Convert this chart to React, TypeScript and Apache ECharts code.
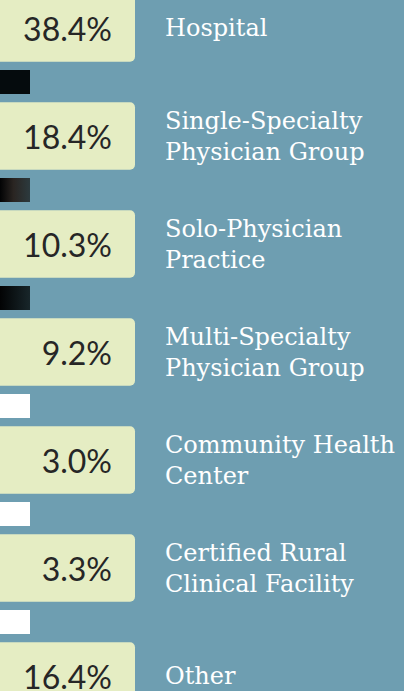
import React, { useEffect, useRef } from "react";
import * as echarts from "echarts";

const categories = [
  "Hospital",
  "Single-Specialty\nPhysician Group",
  "Solo-Physician\nPractice",
  "Multi-Specialty\nPhysician Group",
  "Community Health\nCenter",
  "Certified Rural\nClinical Facility",
  "Other",
];
const shares = [38.4, 18.4, 10.3, 9.2, 3.0, 3.3, 16.4];
const separatorTones = ["dark", "dark", "dark", "light", "light", "light"];

const BG = "#6e9eb1";
const BOX = "#e5edc3";

export default function App() {
  const ref = useRef<HTMLDivElement>(null);
  useEffect(() => {
    document.body.style.margin = "0";
    const chart = echarts.init(ref.current!, undefined, { renderer: "svg" });
    const darkFills = [
      "#050b0d",
      new echarts.graphic.LinearGradient(0, 0, 1, 0, [
        { offset: 0, color: "#020304" },
        { offset: 0.45, color: "#2a2522" },
        { offset: 1, color: "#2c3a3e" },
      ]),
      new echarts.graphic.LinearGradient(0, 0, 1, 0, [
        { offset: 0, color: "#020304" },
        { offset: 1, color: "#18262a" },
      ]),
    ];
    chart.setOption({
      animation: false,
      backgroundColor: BG,
      grid: { left: 0, right: 0, top: -26, height: 756, outerBoundsMode: "none", containLabel: false },
      xAxis: { type: "value", min: 0, max: 404, show: false },
      yAxis: {
        type: "category",
        data: categories,
        inverse: true,
        show: false,
      },
      series: [
        {
          type: "custom",
          clip: false,
          data: shares.map((v, i) => [i, v]),
          encode: { x: 1, y: 0 },
          renderItem: (params: any, api: any) => {
            const i = api.value(0);
            const v = api.value(1);
            const pt = api.coord([0, i]);
            const x0 = pt[0];
            const cy = pt[1];
            const band = api.size([0, 1])[1];
            const boxH = band * 0.625;
            const children: any[] = [
              {
                type: "rect",
                shape: { x: x0 - 10, y: cy - boxH / 2, width: 145, height: boxH, r: 5 },
                style: { fill: BOX },
              },
              {
                type: "text",
                style: {
                  text: v.toFixed(1) + "%",
                  x: x0 + 112,
                  y: cy,
                  align: "right",
                  verticalAlign: "middle",
                  textAlign: "right",
                  textVerticalAlign: "middle",
                  font: '400 32px Lato',
                  fill: "#262626",
                },
              },
              {
                type: "text",
                style: {
                  text: categories[i],
                  x: x0 + 165,
                  y: cy,
                  align: "left",
                  verticalAlign: "middle",
                  textAlign: "left",
                  textVerticalAlign: "middle",
                  font: '24px "DejaVu Serif"',
                  lineHeight: 31,
                  fill: "#ffffff",
                },
              },
            ];
            if (i < separatorTones.length) {
              const tone = separatorTones[i];
              children.push({
                type: "rect",
                shape: { x: x0, y: cy + band / 2 - 12, width: 30, height: 24 },
                style: { fill: tone === "dark" ? darkFills[i % darkFills.length] : "#ffffff" },
              });
            }
            return { type: "group", children };
          },
        },
      ],
    });
    return () => chart.dispose();
  }, []);
  return (
    <div
      ref={ref}
      style={{ position: "fixed", left: 0, top: 0, width: 404, height: 691 }}
    />
  );
}
